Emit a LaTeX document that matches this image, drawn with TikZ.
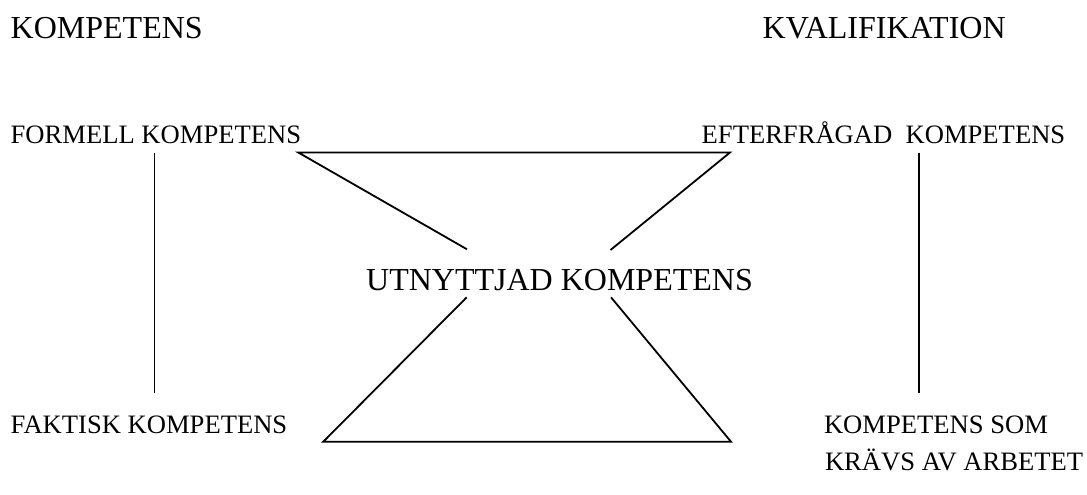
\documentclass[tikz,border=0pt]{standalone}
\usepackage{fontspec}
\setmainfont{Liberation Serif}
\begin{document}
\begin{tikzpicture}[x=1pt,y=-1pt,
  label/.style={anchor=base west,inner sep=0pt,font=\fontsize{26.6}{30}\selectfont},
  title/.style={anchor=base west,inner sep=0pt,font=\fontsize{32}{36}\selectfont},
  link/.style={line width=1.8pt,line cap=butt}]
  \useasboundingbox (0,0) rectangle (1087,495);

  % headings
  \node[title] (komp) at (10.5,39) {KOMPETENS};
  \node[title] (kval) at (762.5,39) {KVALIFIKATION};

  % four corner labels
  \node[label] (formell) at (10.5,143.5) {FORMELL KOMPETENS};
  \node[label] (efter) at (701.5,143.5) {EFTERFRÅGAD\ \ KOMPETENS};
  \node[label] (faktisk) at (10.5,433.3) {FAKTISK KOMPETENS};
  \node[label] (som) at (823.8,433.3) {KOMPETENS SOM};
  \node[label] (kravs) at (824.8,470.7) {KRÄVS AV ARBETET};

  % centre label
  \node[title] (utn) at (366,290) {UTNYTTJAD KOMPETENS};

  % line end points
  \coordinate (lv1) at (154.5,152.7);
  \coordinate (lv2) at (154.5,393.3);
  \coordinate (rv1) at (919.3,152.7);
  \coordinate (rv2) at (919.3,393.3);
  \coordinate (tl) at (298.3,152.5);
  \coordinate (tr) at (730,152.5);
  \coordinate (ul) at (467,249.3);
  \coordinate (ur) at (610.5,250);
  \coordinate (ll) at (466.7,297.3);
  \coordinate (lr) at (611,297.3);
  \coordinate (bl) at (323.3,441.7);
  \coordinate (br) at (731,441.7);

  % connectors
  \draw[link] (lv1) -- (lv2);
  \draw[link] (rv1) -- (rv2);
  \draw[link] (ul) -- (tl) -- (tr) -- (ur);
  \draw[link] (ll) -- (bl) -- (br) -- (lr);
\end{tikzpicture}
\end{document}
